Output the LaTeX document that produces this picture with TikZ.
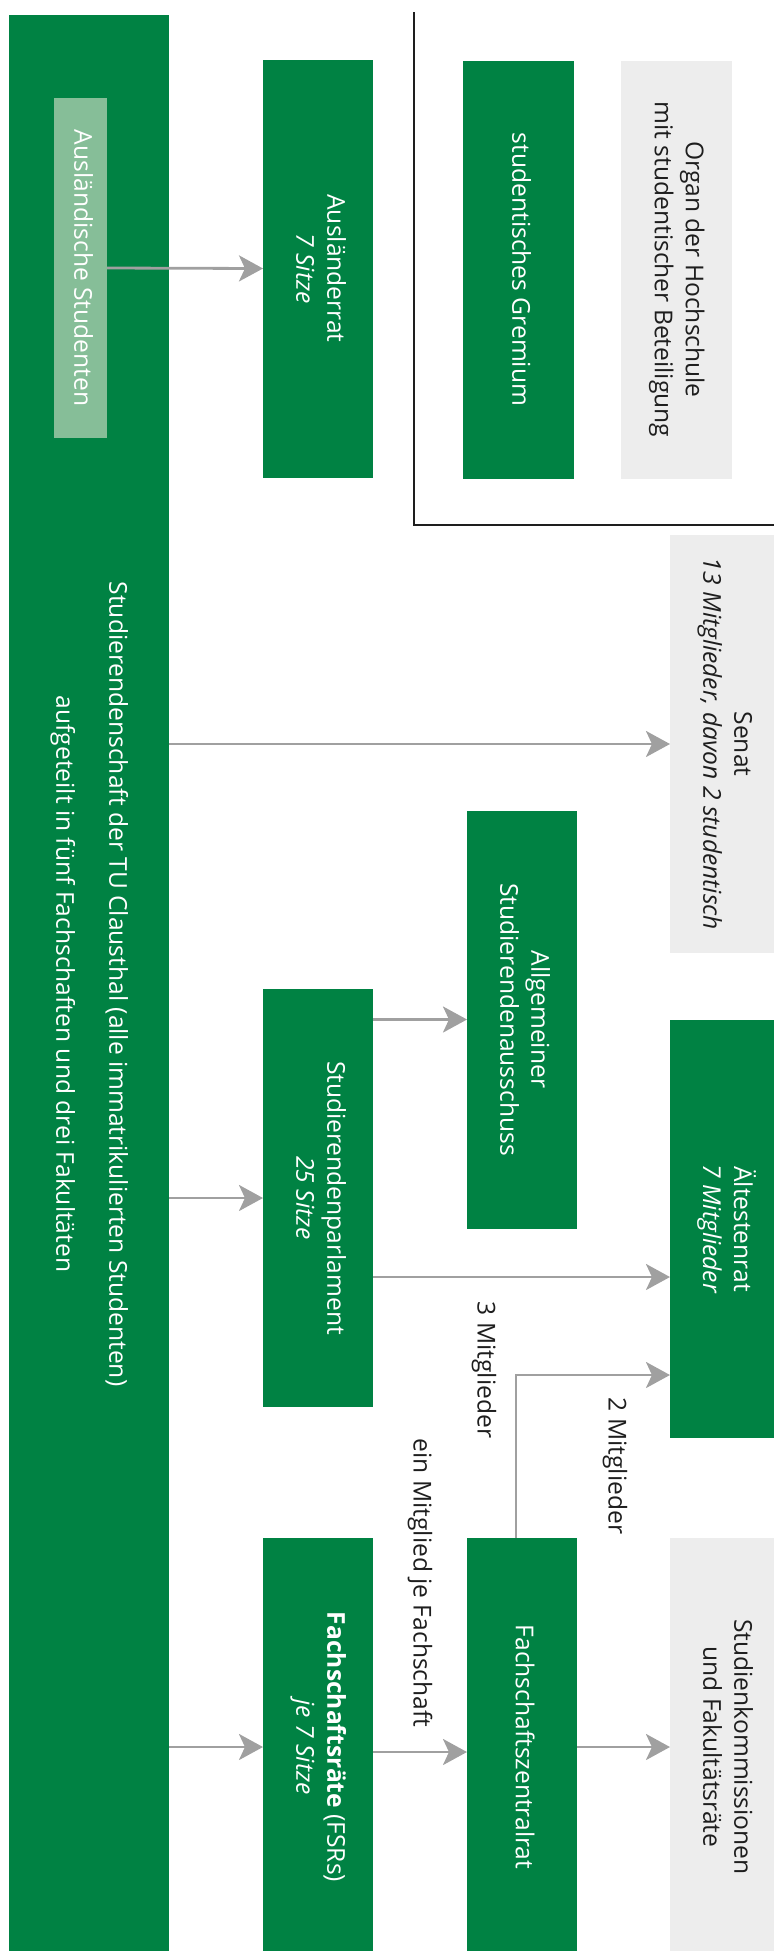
\documentclass[tikz,border=0pt]{standalone}
\usepackage{fontspec}
\setmainfont{Open Sans}
\usetikzlibrary{arrows.meta}
\definecolor{tugreen}{RGB}{0,130,67}
\definecolor{lightgr}{RGB}{134,190,152}
\definecolor{graybox}{RGB}{237,237,237}
\definecolor{arrgray}{RGB}{160,160,160}
\definecolor{darktext}{RGB}{30,30,30}
\newcommand\rt[1]{\rotatebox{-90}{\begin{tabular}{@{}c@{}}#1\end{tabular}}}
\begin{document}
\begin{tikzpicture}[x=0.5pt,y=-0.5pt,
  box/.style={inner sep=0pt, outer sep=0pt, minimum width=55pt, minimum height=209pt, font=\fontsize{12.3}{15.5}\selectfont},
  gbox/.style={box, fill=tugreen, text=white},
  ybox/.style={box, fill=graybox, text=darktext},
  arr/.style={draw=arrgray, line width=1.4pt, -{Stealth[length=12pt,width=13pt,inset=3pt]}},
  lab/.style={rotate=-90, font=\fontsize{12.3}{15}\selectfont, text=darktext, inner sep=0pt}]
\useasboundingbox (0,0) rectangle (774,1951);
\clip (0,0) rectangle (774,1951);
\node[gbox, minimum width=80pt, minimum height=969.5pt] (big) at (89,984) {\rt{Studierendenschaft der TU Clausthal (alle immatrikulierten Studenten)\\[11pt] aufgeteilt in fünf Fachschaften und drei Fakultäten}};
\node[box, fill=lightgr, text=white, minimum width=26.5pt, minimum height=170pt] (ausl) at (80.5,268) {\rt{Ausländische Studenten}};
\node[gbox] (arat) at (318,268.5) {\rt{Ausländerrat\\\textit{7 Sitze}}};
\node[gbox, minimum width=55.5pt] (grem) at (518.5,269.5) {\rt{studentisches Gremium}};
\node[ybox, minimum width=55.5pt] (organ) at (676.5,269.5) {\rt{Organ der Hochschule\\mit studentischer Beteiligung}};
\node[ybox] (senat) at (725,744) {\rt{Senat\\\textit{13 Mitglieder, davon 2 studentisch}}};
\node[gbox] (asta) at (522,1019.5) {\rt{Allgemeiner\\Studierendenausschuss}};
\node[gbox] (stupa) at (318,1198) {\rt{Studierendenparlament\\\textit{25 Sitze}}};
\node[gbox] (aelt) at (725,1229) {\rt{Ältestenrat\\\textit{7 Mitglieder}}};
\node[gbox] (fsr) at (318,1747) {\rt{\textbf{Fachschaftsräte} (FSRs)\\\textit{je 7 Sitze}}};
\node[gbox] (fsz) at (522,1747) {\rt{Fachschaftszentralrat}};
\node[ybox] (stuko) at (725,1747) {\rt{Studienkommissionen\\und Fakultätsräte}};
\node[lab] (l3) at (484,1370) {3 Mitglieder};
\node[lab] (l2) at (615,1466) {2 Mitglieder};
\node[lab] (l1) at (420,1583) {ein Mitglied je Fachschaft};
\draw[line width=1.2pt, draw=darktext] (414,12) -- (414,525) -- (790,525);
\draw[arr] (ausl.east) -- (arat.west);
\draw[arr] (big.east |- senat.west) -- (senat.west);
\draw[arr] (big.east |- stupa.west) -- (stupa.west);
\draw[arr] (stupa.east |- asta.west) -- (asta.west);
\draw[arr] (stupa.east |- 0,1277) -- (aelt.west |- 0,1277);
\draw[arr] ([xshift=-3pt]fsz.north) |- (aelt.west |- 0,1375);
\draw[arr] (big.east |- fsr.west) -- (fsr.west);
\draw[arr] ([yshift=-2.5pt]fsr.east) -- ([yshift=-2.5pt]fsz.west);
\draw[arr] (fsz.east) -- (stuko.west);
\end{tikzpicture}
\end{document}
